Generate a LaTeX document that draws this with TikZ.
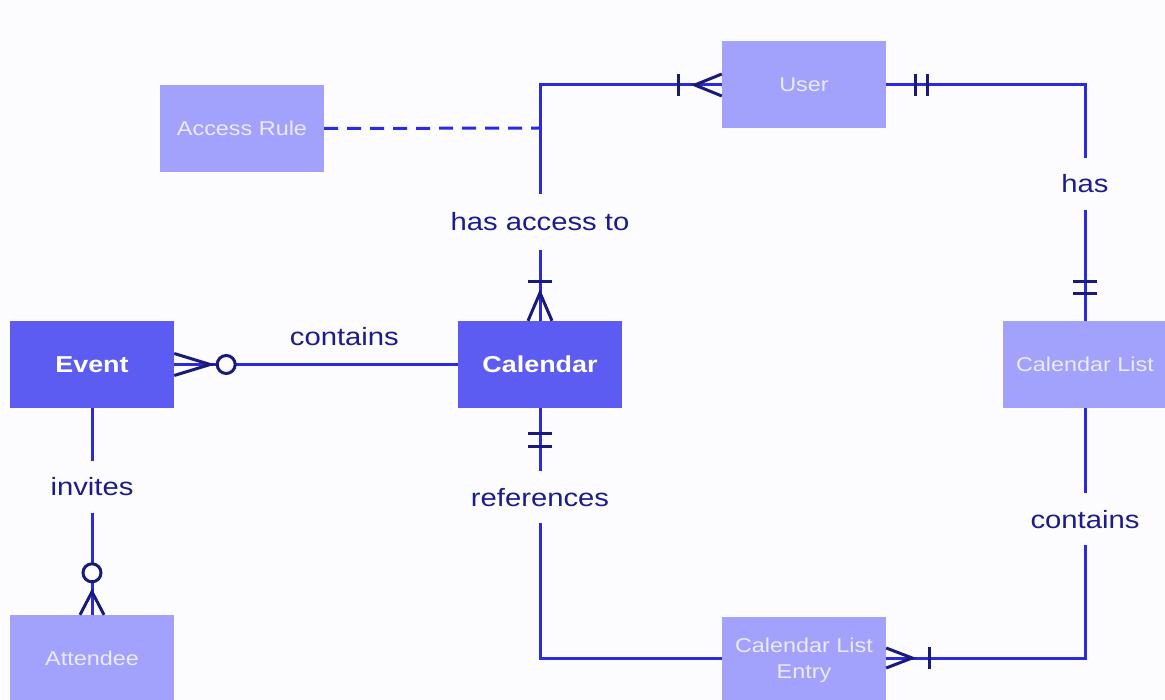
\documentclass[tikz,border=0pt]{standalone}
\usepackage{fontspec}
\setmainfont{Liberation Sans}[FakeStretch=1.17]
\usetikzlibrary{calc}
\definecolor{bg}{HTML}{FCFCFF}
\definecolor{lightent}{HTML}{A2A2FC}
\definecolor{darkent}{HTML}{5C5CF2}
\definecolor{ltext}{HTML}{EAEAFF}
\definecolor{lbl}{HTML}{1C1C8C}
\definecolor{ln}{HTML}{2A2AE0}
\definecolor{mkcol}{HTML}{1A1A78}
\tikzset{
  ent/.style={minimum width=164pt, minimum height=87pt, inner sep=0pt, fill=lightent, text=ltext, font=\fontsize{20}{24}\selectfont, align=center},
  strongent/.style={ent, fill=darkent, text=white, font=\fontsize{23}{27}\selectfont\bfseries},
  rel/.style={draw=ln, line width=3pt},
  lab/.style={text=lbl, font=\fontsize{25}{30}\selectfont, fill=bg, inner xsep=3pt, inner ysep=17pt},
  notation/.style={draw=mkcol, line width=3pt},
}
% crow's foot: #1 anchor, #2 toward, #3 convergence distance, #4 half width
\newcommand\erCrow[4]{%
  \draw[notation] ($(#1)!#4!90:(#2)$) -- ($(#1)!#3!(#2)$) -- ($(#1)!#4!-90:(#2)$);}
% bar: #1 anchor, #2 toward, #3 distance, #4 half width
\newcommand\erBar[4]{%
  \coordinate (erTmp) at ($(#1)!#3!(#2)$);
  \draw[notation] ($(erTmp)!#4!90:(#2)$) -- ($(erTmp)!#4!-90:(#2)$);}
% ring: #1 anchor, #2 toward, #3 distance
\newcommand\erRing[3]{%
  \draw[notation, fill=bg] ($(#1)!#3!(#2)$) circle (9pt);}
\begin{document}
\begin{tikzpicture}[x=1pt, y=-1pt]
\fill[bg] (0,0) rectangle (1165,700);
\useasboundingbox (0,0) rectangle (1165,700);
\clip (0,0) rectangle (1165,700);

\node[ent] (user) at (804,85) {User};
\node[ent] (access) at (242,128.5) {Access Rule};
\node[strongent] (event) at (92,364.5) {Event};
\node[strongent] (cal) at (540,364.5) {Calendar};
\node[ent] (callist) at (1085,364.5) {Calendar List};
\node[ent] (att) at (92,658.5) {Attendee};
\node[ent] (cle) at (804,660) {Calendar List\\[2pt]Entry};

\coordinate (c1) at (540,85);
\coordinate (c2) at (1085,85);
\coordinate (c3) at (540,658);
\coordinate (c4) at (1085,658);
\coordinate (ar) at (540,128);

% Calendar -- User
\draw[rel] (cal.north) -- node[lab, pos=0.42, inner ysep=19pt] {has access to} (c1) -- (user.west);
% Access Rule dashed
\draw[rel, dash pattern=on 14pt off 9pt] (access.east) -- (ar);
% User -- Calendar List
\draw[rel] (user.east) -- (c2) -- node[lab, pos=0.42] {has} (callist.north);
% Event -- Calendar
\draw[rel] (event.east) -- node[text=lbl, font=\fontsize{25}{30}\selectfont, above, pos=0.6, inner ysep=17pt] {contains} (cal.west);
% Calendar -- Calendar List Entry
\draw[rel] (cal.south) -- node[lab, pos=0.356] {references} (c3) -- (c3 -| cle.west);
% Calendar List -- Calendar List Entry
\draw[rel] (callist.south) -- node[lab, pos=0.444] {contains} (c4) -- (c4 -| cle.east);
% Event -- Attendee
\draw[rel] (event.south) -- node[lab, pos=0.38] {invites} (att.north);

\coordinate (cleW) at (c3 -| cle.west);
\coordinate (cleE) at (c4 -| cle.east);

% notations
\erCrow{user.west}{c1}{27pt}{11pt}
\erBar{user.west}{c1}{43pt}{11pt}
\erCrow{cal.north}{c1}{28pt}{12pt}
\erBar{cal.north}{c1}{39pt}{12pt}
\erBar{user.east}{c2}{29pt}{11pt}
\erBar{user.east}{c2}{41pt}{11pt}
\erBar{callist.north}{c2}{27pt}{12pt}
\erBar{callist.north}{c2}{39pt}{12pt}
\erCrow{event.east}{cal.west}{36pt}{11pt}
\erRing{event.east}{cal.west}{52pt}
\erBar{cal.south}{c3}{25pt}{12pt}
\erBar{cal.south}{c3}{38pt}{12pt}
\erCrow{att.north}{event.south}{23pt}{12pt}
\erRing{att.north}{event.south}{42pt}
\erCrow{cleE}{c4}{26pt}{10pt}
\erBar{cleE}{c4}{43pt}{11pt}
\end{tikzpicture}
\end{document}
